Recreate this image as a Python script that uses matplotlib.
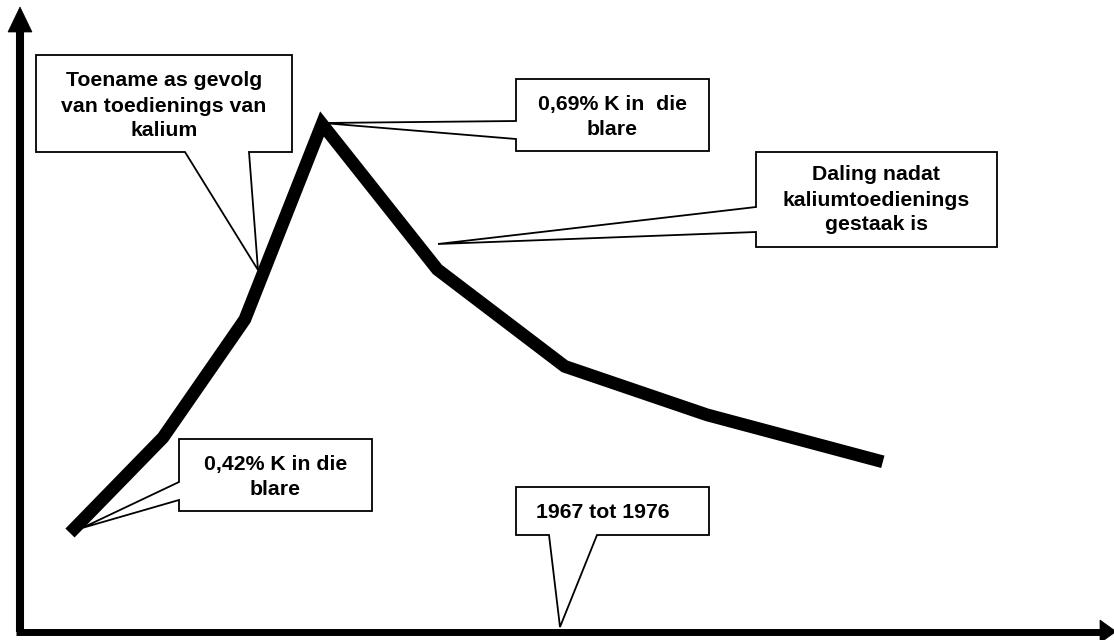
import matplotlib
matplotlib.use("Agg")
import matplotlib.pyplot as plt
import matplotlib.transforms as mtransforms
from matplotlib.patches import Polygon
from matplotlib.lines import Line2D

# kaliumvlak in die blare (%), 1967 tot 1976
x_pos = [0, 1.0, 1.88, 2.71, 3.95, 5.32, 6.85, 8.74]
k_pct = [0.42, 0.483, 0.561, 0.69, 0.594, 0.530, 0.498, 0.467]

W, H = 1114, 640
plt.rcParams['font.family'] = ['Liberation Sans', 'DejaVu Sans']

fig = plt.figure(figsize=(W / 100, H / 100), dpi=100)
ax = fig.add_axes([0, 0, 1, 1])
# schaal: 1 x-eenheid = 93 px, 0.27% = 409 px
ax.set_xlim(-70 / 93, (W - 70) / 93)
ax.set_ylim(0.42 - 107 * 0.27 / 409, 0.42 + 533 * 0.27 / 409)
ax.axis('off')

ax.plot(x_pos, k_pct, color='black', lw=9.2, solid_joinstyle='miter',
        solid_capstyle='butt', zorder=5)

# pixel transform (y down) vir die uitleg
px = mtransforms.Affine2D().scale(1 / W, -1 / H).translate(0, 1) + fig.transFigure

# asse met pyle
fig.add_artist(Line2D([20, 20], [632, 28], color='black', lw=5.8, transform=px,
                      solid_capstyle='butt'))
fig.add_artist(Line2D([16, 1102], [631.5, 631.5], color='black', lw=5.0, transform=px,
                      solid_capstyle='butt'))
fig.add_artist(Polygon([[8, 32], [20, 7], [32, 32]], closed=True, fc='black',
                       ec='black', lw=0.5, transform=px))
fig.add_artist(Polygon([[1100, 620], [1116, 631.5], [1100, 643]], closed=True, fc='black',
                       ec='black', lw=0.5, transform=px))


def callout(box, side, base, tip, text, tx=None, ty=None, size=15.3):
    x0, y0, x1, y1 = box
    if side == 'bottom':
        pts = [(x0, y0), (x1, y0), (x1, y1), (base[1], y1), tip, (base[0], y1), (x0, y1)]
    else:
        pts = [(x0, y0), (x1, y0), (x1, y1), (x0, y1), (x0, base[1]), tip, (x0, base[0])]
    fig.add_artist(Polygon(pts, closed=True, fc='white', ec='black', lw=1.3,
                           transform=px, zorder=3, joinstyle='miter'))
    if tx is None:
        tx = (x0 + x1) / 2
    if ty is None:
        ty = (y0 + y1) / 2
    fig.text(tx, ty, text, transform=px, ha='center', va='center', fontsize=size,
             fontweight='bold', linespacing=1.4, zorder=4)


callout((36, 55, 292, 152), 'bottom', (185, 249), (258, 270),
        "Toename as gevolg\nvan toedienings van\nkalium", ty=106)
callout((516, 79, 709, 151), 'left', (121, 139), (323, 123),
        "0,69% K in  die\nblare", ty=117)
callout((756, 152, 997, 247), 'left', (207, 232), (438, 244),
        "Daling nadat\nkaliumtoedienings\ngestaak is", ty=200)
callout((179, 439, 372, 511), 'left', (482, 500), (82, 528),
        "0,42% K in die\nblare", ty=477)
callout((516, 487, 709, 535), 'bottom', (549, 597), (560, 627),
        "1967 tot 1976", tx=603, ty=513)

fig.savefig('out.png', dpi=100, facecolor='white')
